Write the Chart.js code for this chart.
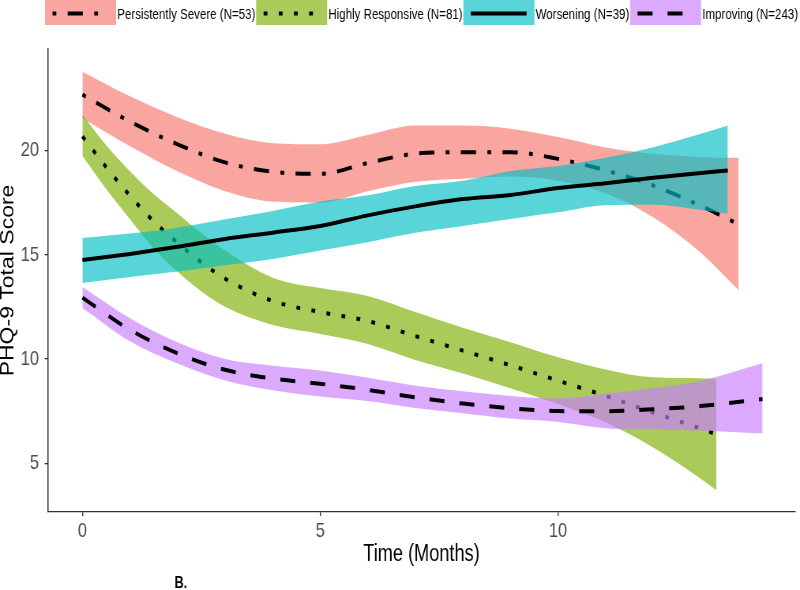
<!DOCTYPE html>
<html>
<head>
<meta charset="utf-8">
<title>PHQ-9 trajectories</title>
<script src="https://cdn.jsdelivr.net/npm/chart.js@4/dist/chart.umd.min.js"></script>
<style>
    html, body { margin: 0; padding: 0; background: #ffffff; }
    #wrap { width: 800px; height: 590px; overflow: hidden; }
</style>
</head>
<body>
<!-- the source figure is horizontally squeezed: draw 1013 wide, show it 800 wide -->
<div id="wrap"><canvas id="trajChart" width="1013" height="590" style="width:800px;height:590px;display:block"></canvas></div>
<script>
// Trajectory groups (legend order)
const groupNames = ['Persistently Severe', 'Highly Responsive', 'Worsening', 'Improving'];
const groupSizes = [53, 81, 39, 243];

// Axis ticks
const xTicks = [0, 5, 10];
const yTicks = [5, 10, 15, 20];

// Persistently Severe: smoothed mean and confidence band
const severeMonths = [0, 1, 2, 3, 4, 5, 6, 7, 8, 9, 10, 11, 12, 13, 13.8];
const severeMean = [22.68, 21.39, 20.3, 19.43, 18.98, 18.88, 19.4, 19.85, 19.92, 19.92, 19.6, 19.05, 18.32, 17.35, 16.45];
const severeUpper = [23.78, 22.6, 21.6, 20.8, 20.35, 20.3, 20.75, 21.2, 21.2, 21.05, 20.65, 20.15, 19.85, 19.68, 19.65];
const severeLower = [21.55, 20.2, 19.0, 18.05, 17.55, 17.5, 18.05, 18.5, 18.65, 18.75, 18.55, 17.95, 16.8, 15.1, 13.3];

// Highly Responsive
const responsiveMonths = [0, 0.5, 1, 1.5, 2, 2.5, 3, 4, 5, 6, 7, 8, 9, 10, 11, 12, 13, 13.33];
const responsiveMean = [20.68, 19.2, 17.83, 16.6, 15.58, 14.64, 13.85, 12.78, 12.25, 11.82, 11.1, 10.4, 9.7, 8.96, 8.23, 7.43, 6.66, 6.39];
const responsiveUpper = [21.72, 20.25, 19.0, 17.9, 16.98, 16.04, 15.2, 13.9, 13.4, 13.02, 12.25, 11.5, 10.8, 10.08, 9.5, 9.12, 9.08, 9.06];
const responsiveLower = [19.75, 18.15, 16.7, 15.3, 14.18, 13.24, 12.5, 11.63, 11.2, 10.72, 9.95, 9.3, 8.6, 7.84, 6.96, 5.76, 4.26, 3.7];

// Worsening
const worseningMonths = [0, 1, 2, 3, 4, 5, 6, 7, 8, 9, 10, 11, 12, 13, 13.57];
const worseningMean = [14.75, 15.04, 15.38, 15.76, 16.06, 16.38, 16.89, 17.32, 17.67, 17.87, 18.2, 18.43, 18.69, 18.92, 19.04];
const worseningUpper = [15.8, 16.02, 16.3, 16.7, 17.1, 17.55, 17.85, 18.3, 18.55, 19.02, 19.26, 19.65, 20.16, 20.8, 21.2];
const worseningLower = [13.65, 13.93, 14.2, 14.5, 14.8, 15.2, 15.6, 16.05, 16.38, 16.72, 17.04, 17.38, 17.4, 17.15, 16.97];

// Improving
const improvingMonths = [0, 1, 2, 3, 4, 5, 6, 7, 8, 9, 10, 11, 12, 13, 14.3];
const improvingMean = [12.94, 11.4, 10.27, 9.48, 9.06, 8.81, 8.52, 8.16, 7.86, 7.64, 7.5, 7.49, 7.59, 7.74, 8.08];
const improvingUpper = [13.45, 11.95, 10.8, 10.0, 9.68, 9.45, 9.1, 8.72, 8.45, 8.22, 8.1, 8.33, 8.6, 8.95, 9.8];
const improvingLower = [12.45, 10.85, 9.78, 8.97, 8.5, 8.2, 7.98, 7.65, 7.4, 7.14, 6.98, 6.68, 6.62, 6.57, 6.42];

// Styles (ggplot default hues, ribbon alpha)
const ribbonColors = [
    'rgba(248, 118, 109, 0.65)',
    'rgba(124, 174, 0, 0.65)',
    'rgba(0, 191, 196, 0.65)',
    'rgba(199, 124, 255, 0.65)'
];
const lineDashes = [[4.8, 14.4, 19.2, 14.4], [4.8, 14.4], [], [19, 19]];
const fontFamily = '"Liberation Sans", Arial, Helvetica, sans-serif';

const series = [
    { months: severeMonths, mean: severeMean, upper: severeUpper, lower: severeLower },
    { months: responsiveMonths, mean: responsiveMean, upper: responsiveUpper, lower: responsiveLower },
    { months: worseningMonths, mean: worseningMean, upper: worseningUpper, lower: worseningLower },
    { months: improvingMonths, mean: improvingMean, upper: improvingUpper, lower: improvingLower }
];

function toPoints(xs, ys) {
    return xs.map((x, i) => ({ x: x, y: ys[i] }));
}

// Each group: upper edge, lower edge filled to it, then the black mean line.
// Higher `order` is painted first, so later groups sit on top (like ggplot).
function buildDatasets() {
    const datasets = [];
    series.forEach((s, g) => {
        const ribbonOrder = 8 - 2 * g;
        const lineOrder = 7 - 2 * g;
        datasets.push({
            label: groupNames[g] + ' upper',
            data: toPoints(s.months, s.upper),
            borderColor: 'transparent',
            borderWidth: 0,
            pointRadius: 0,
            fill: false,
            cubicInterpolationMode: 'monotone',
            order: ribbonOrder
        });
        datasets.push({
            label: groupNames[g] + ' lower',
            data: toPoints(s.months, s.lower),
            borderColor: 'transparent',
            borderWidth: 0,
            backgroundColor: ribbonColors[g],
            pointRadius: 0,
            fill: '-1',
            cubicInterpolationMode: 'monotone',
            order: ribbonOrder
        });
        datasets.push({
            label: groupNames[g],
            data: toPoints(s.months, s.mean),
            borderColor: '#000000',
            borderWidth: 4,
            borderDash: lineDashes[g],
            pointRadius: 0,
            fill: false,
            cubicInterpolationMode: 'monotone',
            order: lineOrder
        });
    });
    return datasets;
}

// Legend strip across the top: filled key box with the line pattern, then text
const keyLegend = {
    id: 'keyLegend',
    afterDraw(chart) {
        const ctx = chart.ctx;
        const boxW = 90;
        const boxH = 25;
        let x = 57;
        ctx.save();
        groupNames.forEach((name, g) => {
            ctx.fillStyle = '#ffffff';
            ctx.fillRect(x, 0, boxW, boxH);
            ctx.fillStyle = ribbonColors[g];
            ctx.fillRect(x, 0, boxW, boxH);

            ctx.beginPath();
            ctx.setLineDash(lineDashes[g]);
            ctx.lineWidth = 4;
            ctx.strokeStyle = '#000000';
            ctx.moveTo(x + 9.5, 13.5);
            ctx.lineTo(x + 80, 13.5);
            ctx.stroke();
            ctx.setLineDash([]);

            const text = name + ' (N=' + groupSizes[g] + ')';
            ctx.font = '14.6px ' + fontFamily;
            ctx.fillStyle = '#000000';
            ctx.textBaseline = 'middle';
            ctx.textAlign = 'left';
            ctx.fillText(text, x + boxW + 1.5, 15);
            x += boxW + 1.5 + ctx.measureText(text).width + 1;
        });

        // panel tag under the axis
        ctx.font = 'bold 16px ' + fontFamily;
        ctx.fillStyle = '#000000';
        ctx.textBaseline = 'alphabetic';
        ctx.fillText('B.', 221, 588);
        ctx.restore();
    }
};

Chart.defaults.font.family = fontFamily;

const ctx = document.getElementById('trajChart').getContext('2d');
new Chart(ctx, {
    type: 'line',
    data: { datasets: buildDatasets() },
    options: {
        responsive: false,
        animation: false,
        events: [],
        layout: { padding: { top: 49, right: 6.5, bottom: 0, left: 0 } },
        plugins: {
            legend: { display: false },
            tooltip: { enabled: false }
        },
        scales: {
            x: {
                type: 'linear',
                min: -0.72,
                max: 14.98,
                afterBuildTicks: scale => { scale.ticks = xTicks.map(v => ({ value: v })); },
                afterFit: scale => { scale.height = 78; },
                border: { display: true, color: '#333333', width: 1.3 },
                grid: { drawOnChartArea: false, tickLength: 4, color: '#333333', lineWidth: 1.4 },
                ticks: { color: '#4d4d4d', font: { size: 21 }, padding: 2.5, maxRotation: 0 },
                title: {
                    display: true,
                    text: 'Time (Months)',
                    color: '#000000',
                    font: { size: 23 },
                    padding: { top: 0, bottom: 22 }
                }
            },
            y: {
                type: 'linear',
                min: 2.66,
                max: 24.87,
                afterBuildTicks: scale => { scale.ticks = yTicks.map(v => ({ value: v })); },
                afterFit: scale => { scale.width = 61; },
                border: { display: true, color: '#333333', width: 1.5 },
                grid: { drawOnChartArea: false, tickLength: 4.5, color: '#333333', lineWidth: 1.3 },
                ticks: { color: '#4d4d4d', font: { size: 21 }, padding: 7 },
                title: {
                    display: true,
                    text: 'PHQ-9 Total Score',
                    color: '#000000',
                    font: { size: 23, lineHeight: 0.94 },
                    padding: { top: 0, bottom: 0 }
                }
            }
        }
    },
    plugins: [keyLegend]
});
</script>
</body>
</html>
